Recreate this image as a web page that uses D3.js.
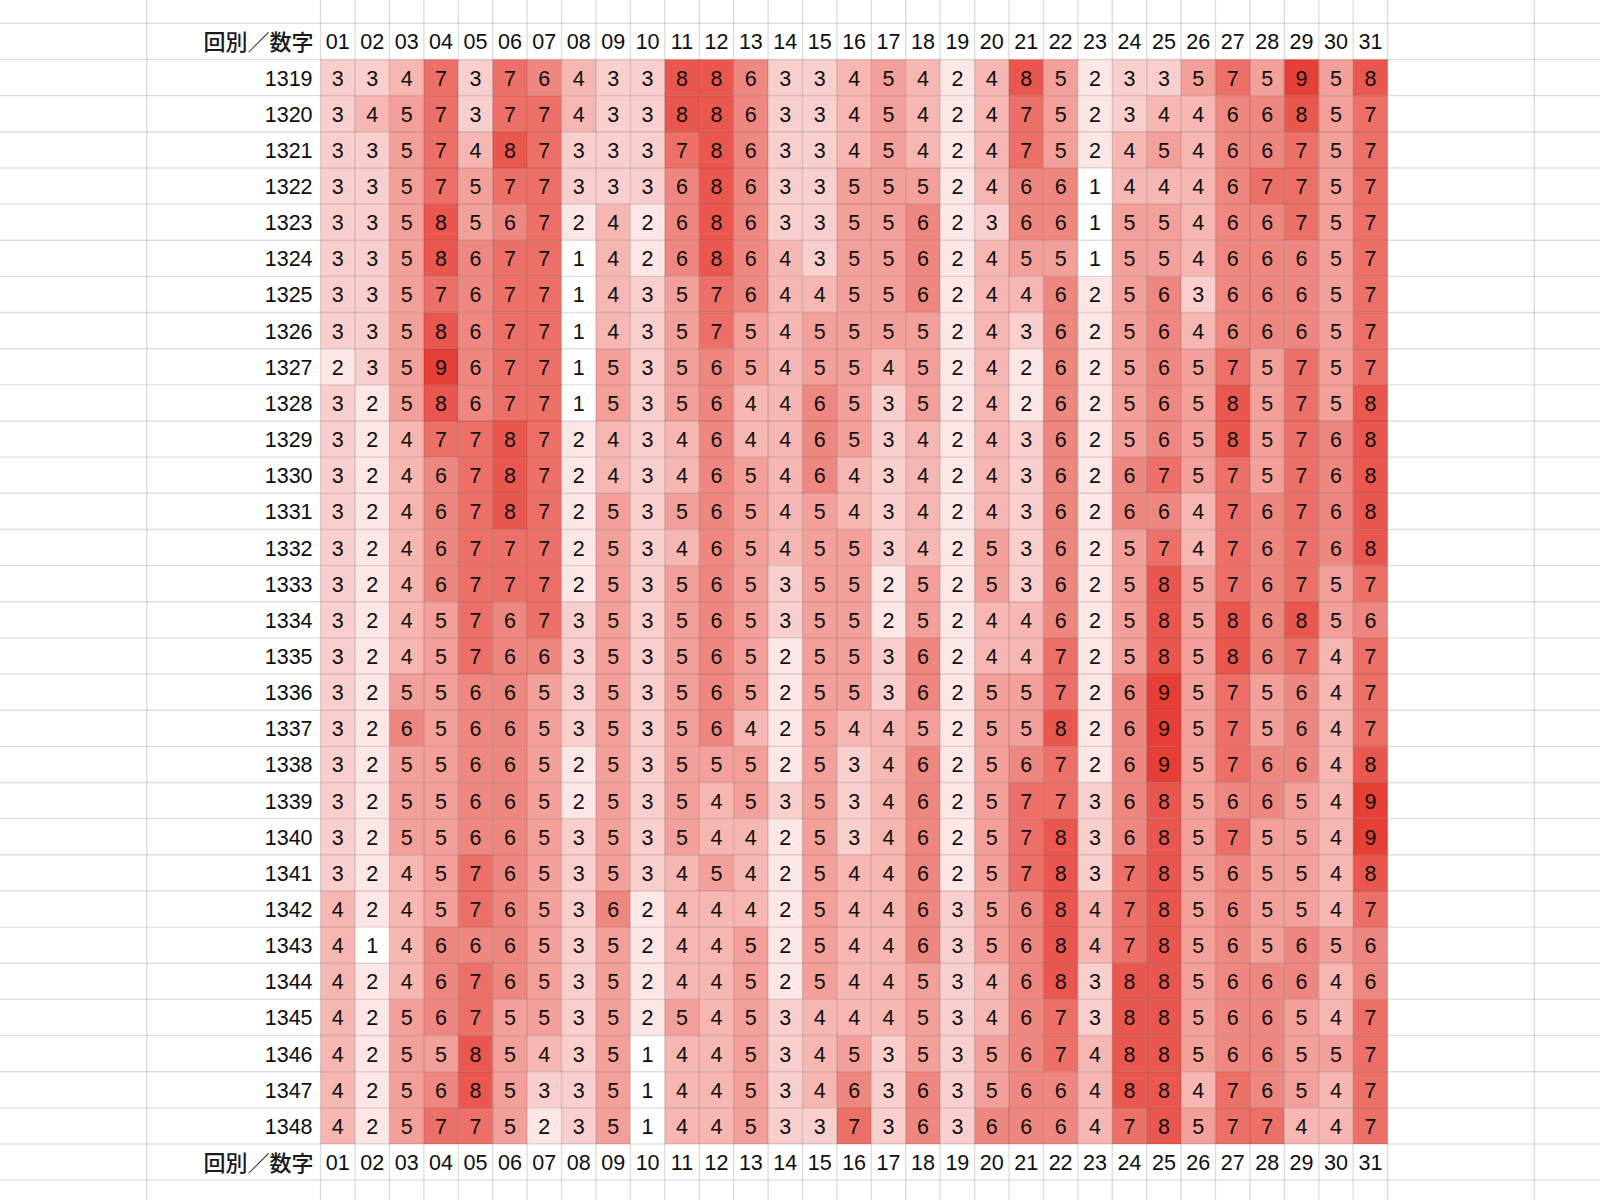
<!DOCTYPE html>
<html>
<head>
<meta charset="utf-8">
<script src="https://cdn.jsdelivr.net/npm/d3@7"></script>
<style>
  html, body { margin: 0; padding: 0; background: #ffffff; }
  svg { display: block; }
</style>
</head>
<body>
<svg id="chart" width="1600" height="1200"></svg>
<script>
// ---- data ----
const cornerLabel = "回別／数字";
const numbers = ["01","02","03","04","05","06","07","08","09","10","11","12","13","14","15","16",
                 "17","18","19","20","21","22","23","24","25","26","27","28","29","30","31"];
const rounds = [1319,1320,1321,1322,1323,1324,1325,1326,1327,1328,1329,1330,1331,1332,1333,
                1334,1335,1336,1337,1338,1339,1340,1341,1342,1343,1344,1345,1346,1347,1348];
const counts = [
  [3,3,4,7,3,7,6,4,3,3,8,8,6,3,3,4,5,4,2,4,8,5,2,3,3,5,7,5,9,5,8],
  [3,4,5,7,3,7,7,4,3,3,8,8,6,3,3,4,5,4,2,4,7,5,2,3,4,4,6,6,8,5,7],
  [3,3,5,7,4,8,7,3,3,3,7,8,6,3,3,4,5,4,2,4,7,5,2,4,5,4,6,6,7,5,7],
  [3,3,5,7,5,7,7,3,3,3,6,8,6,3,3,5,5,5,2,4,6,6,1,4,4,4,6,7,7,5,7],
  [3,3,5,8,5,6,7,2,4,2,6,8,6,3,3,5,5,6,2,3,6,6,1,5,5,4,6,6,7,5,7],
  [3,3,5,8,6,7,7,1,4,2,6,8,6,4,3,5,5,6,2,4,5,5,1,5,5,4,6,6,6,5,7],
  [3,3,5,7,6,7,7,1,4,3,5,7,6,4,4,5,5,6,2,4,4,6,2,5,6,3,6,6,6,5,7],
  [3,3,5,8,6,7,7,1,4,3,5,7,5,4,5,5,5,5,2,4,3,6,2,5,6,4,6,6,6,5,7],
  [2,3,5,9,6,7,7,1,5,3,5,6,5,4,5,5,4,5,2,4,2,6,2,5,6,5,7,5,7,5,7],
  [3,2,5,8,6,7,7,1,5,3,5,6,4,4,6,5,3,5,2,4,2,6,2,5,6,5,8,5,7,5,8],
  [3,2,4,7,7,8,7,2,4,3,4,6,4,4,6,5,3,4,2,4,3,6,2,5,6,5,8,5,7,6,8],
  [3,2,4,6,7,8,7,2,4,3,4,6,5,4,6,4,3,4,2,4,3,6,2,6,7,5,7,5,7,6,8],
  [3,2,4,6,7,8,7,2,5,3,5,6,5,4,5,4,3,4,2,4,3,6,2,6,6,4,7,6,7,6,8],
  [3,2,4,6,7,7,7,2,5,3,4,6,5,4,5,5,3,4,2,5,3,6,2,5,7,4,7,6,7,6,8],
  [3,2,4,6,7,7,7,2,5,3,5,6,5,3,5,5,2,5,2,5,3,6,2,5,8,5,7,6,7,5,7],
  [3,2,4,5,7,6,7,3,5,3,5,6,5,3,5,5,2,5,2,4,4,6,2,5,8,5,8,6,8,5,6],
  [3,2,4,5,7,6,6,3,5,3,5,6,5,2,5,5,3,6,2,4,4,7,2,5,8,5,8,6,7,4,7],
  [3,2,5,5,6,6,5,3,5,3,5,6,5,2,5,5,3,6,2,5,5,7,2,6,9,5,7,5,6,4,7],
  [3,2,6,5,6,6,5,3,5,3,5,6,4,2,5,4,4,5,2,5,5,8,2,6,9,5,7,5,6,4,7],
  [3,2,5,5,6,6,5,2,5,3,5,5,5,2,5,3,4,6,2,5,6,7,2,6,9,5,7,6,6,4,8],
  [3,2,5,5,6,6,5,2,5,3,5,4,5,3,5,3,4,6,2,5,7,7,3,6,8,5,6,6,5,4,9],
  [3,2,5,5,6,6,5,3,5,3,5,4,4,2,5,3,4,6,2,5,7,8,3,6,8,5,7,5,5,4,9],
  [3,2,4,5,7,6,5,3,5,3,4,5,4,2,5,4,4,6,2,5,7,8,3,7,8,5,6,5,5,4,8],
  [4,2,4,5,7,6,5,3,6,2,4,4,4,2,5,4,4,6,3,5,6,8,4,7,8,5,6,5,5,4,7],
  [4,1,4,6,6,6,5,3,5,2,4,4,5,2,5,4,4,6,3,5,6,8,4,7,8,5,6,5,6,5,6],
  [4,2,4,6,7,6,5,3,5,2,4,4,5,2,5,4,4,5,3,4,6,8,3,8,8,5,6,6,6,4,6],
  [4,2,5,6,7,5,5,3,5,2,5,4,5,3,4,4,4,5,3,4,6,7,3,8,8,5,6,6,5,4,7],
  [4,2,5,5,8,5,4,3,5,1,4,4,5,3,4,5,3,5,3,5,6,7,4,8,8,5,6,6,5,5,7],
  [4,2,5,6,8,5,3,3,5,1,4,4,5,3,4,6,3,6,3,5,6,6,4,8,8,4,7,6,5,4,7],
  [4,2,5,7,7,5,2,3,5,1,4,4,5,3,3,7,3,6,3,6,6,6,4,7,8,5,7,7,4,4,7]
];

// ---- layout ----
const svg = d3.select("#chart");
const W = 1600, H = 1200;
const colLeft = 320.6, colW = 34.42;
const rowTop = 59.5, rowH = 36.15;

const x = d3.scaleBand().domain(numbers).range([colLeft, colLeft + colW * numbers.length]).padding(0);
const y = d3.scaleBand().domain(rounds).range([rowTop, rowTop + rowH * rounds.length]).padding(0);
const color = d3.scaleLinear().domain([1, 9]).range(["#ffffff", "#e63f35"]).interpolate(d3.interpolateRgb);

const cells = [];
rounds.forEach((r, i) => numbers.forEach((n, j) => cells.push({ r, n, v: counts[i][j] })));

svg.append("rect").attr("width", W).attr("height", H).attr("fill", "#ffffff");

// cells
svg.append("g").selectAll("rect").data(cells).join("rect")
  .attr("x", d => x(d.n)).attr("y", d => y(d.r))
  .attr("width", x.bandwidth()).attr("height", y.bandwidth())
  .attr("fill", d => color(d.v));

// spreadsheet grid lines (drawn over fills)
const colEdges = [146.7, colLeft].concat(numbers.map(n => x(n) + x.bandwidth())).concat([1534.3]);
const rowEdges = d3.range(-1, rounds.length + 4).map(k => rowTop + (k - 1) * rowH);
const grid = svg.append("g").attr("stroke", "rgba(0,0,0,0.13)").attr("stroke-width", 1.4);
grid.selectAll("line.v").data(colEdges).join("line").attr("class", "v")
  .attr("x1", d => d).attr("x2", d => d).attr("y1", 0).attr("y2", H);
grid.selectAll("line.h").data(rowEdges).join("line").attr("class", "h")
  .attr("x1", 0).attr("x2", W).attr("y1", d => d).attr("y2", d => d);

const fontDigits = "'Liberation Sans', Arial, 'Noto Sans CJK JP', sans-serif";
const fontCJK = "'Noto Sans CJK JP', 'Liberation Sans', sans-serif";
const fs = 21.5;
const base = rowH / 2 + 8;

// cell values
svg.append("g").selectAll("text").data(cells).join("text")
  .attr("x", d => x(d.n) + x.bandwidth() / 2)
  .attr("y", d => y(d.r) + base)
  .attr("text-anchor", "middle")
  .attr("font-family", fontDigits).attr("font-size", fs).attr("fill", "#0d0d0d")
  .text(d => d.v);

// row labels
svg.append("g").selectAll("text").data(rounds).join("text")
  .attr("x", colLeft - 8).attr("y", d => y(d) + base)
  .attr("text-anchor", "end")
  .attr("font-family", fontDigits).attr("font-size", fs).attr("fill", "#0d0d0d")
  .text(d => d);

// header and footer rows
const headerTop = rowTop - rowH;
const footerTop = rowTop + rowH * rounds.length;
[headerTop, footerTop].forEach(top => {
  const g = svg.append("g");
  g.selectAll("text.num").data(numbers).join("text").attr("class", "num")
    .attr("x", d => x(d) + x.bandwidth() / 2).attr("y", top + base)
    .attr("text-anchor", "middle")
    .attr("font-family", fontDigits).attr("font-size", fs).attr("fill", "#0d0d0d")
    .text(d => d);
  g.append("text")
    .attr("x", colLeft - 7).attr("y", top + base + 0.5)
    .attr("text-anchor", "end")
    .attr("font-family", fontCJK).attr("font-size", 22).attr("font-weight", 500).attr("fill", "#1a1a1a")
    .text(cornerLabel);
});
</script>
</body>
</html>
